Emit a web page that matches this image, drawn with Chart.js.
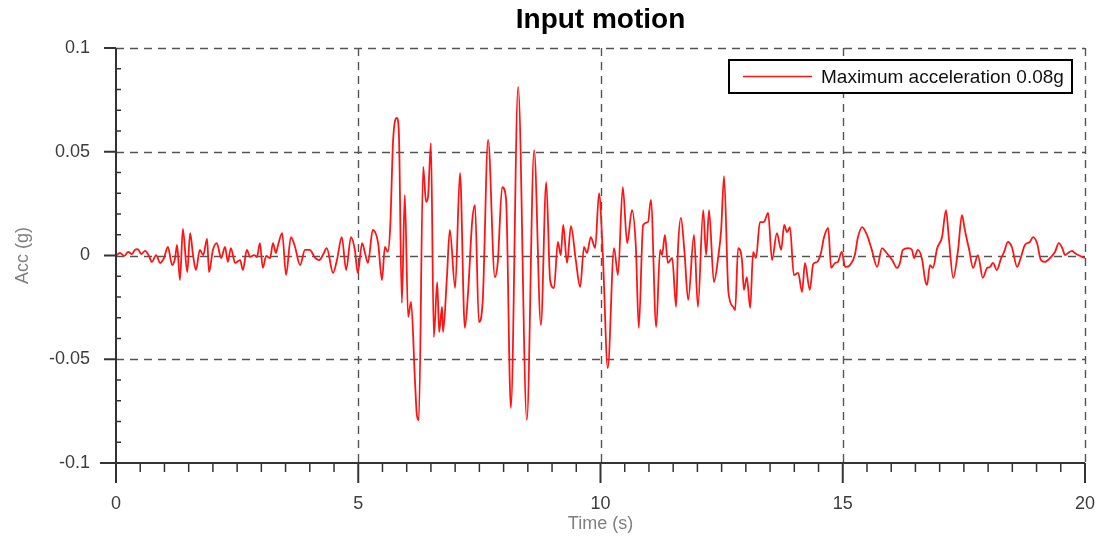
<!DOCTYPE html>
<html>
<head>
<meta charset="utf-8">
<script src="https://cdn.jsdelivr.net/npm/chart.js@4.4.1/dist/chart.umd.min.js"></script>
<style>
  body { margin: 0; background: #fff; }
  #wrap { width: 1096px; height: 537px; position: relative; }
</style>
</head>
<body>
<div id="wrap"><canvas id="chart"></canvas></div>
<script>
// time (s) and acceleration (g)
const times = [
    0, 0.08, 0.17, 0.25, 0.33, 0.39, 0.45, 0.52, 0.60, 0.68, 0.74, 0.83, 0.91, 0.99,
    1.07, 1.16, 1.22, 1.26, 1.32, 1.38, 1.47, 1.53, 1.59, 1.65, 1.73, 1.80, 1.88, 1.92,
    2.00, 2.08, 2.17, 2.25, 2.31, 2.37, 2.46, 2.56, 2.62, 2.70, 2.77, 2.85, 2.91, 2.97,
    3.03, 3.10, 3.18, 3.24, 3.30, 3.34, 3.43, 3.51, 3.61, 3.69, 3.80, 3.90, 4.00, 4.11,
    4.19, 4.27, 4.35, 4.48, 4.56, 4.66, 4.75, 4.85, 4.93, 4.99,
    5.08, 5.14, 5.20, 5.30, 5.41, 5.49, 5.55, 5.61, 5.66, 5.72, 5.80, 5.84, 5.90, 5.96,
    6.03, 6.09, 6.17, 6.21, 6.25, 6.34, 6.40, 6.44, 6.50, 6.56, 6.63, 6.67, 6.73, 6.75,
    6.83, 6.89, 7.00, 7.10, 7.20, 7.27, 7.35, 7.41, 7.49, 7.57, 7.68, 7.82, 7.88, 7.97,
    8.05, 8.15, 8.30, 8.48, 8.63, 8.77, 8.88, 8.96, 9.04, 9.12, 9.18, 9.23, 9.31, 9.39,
    9.49, 9.58, 9.66, 9.72, 9.80, 9.89,
    9.97, 10.05, 10.15, 10.28, 10.36, 10.46, 10.55, 10.65, 10.73, 10.79, 10.88, 10.98,
    11.04, 11.15, 11.23, 11.27, 11.33, 11.39, 11.48, 11.56, 11.60, 11.66, 11.73, 11.81,
    11.93, 12.01, 12.12, 12.18, 12.24, 12.34, 12.43, 12.49, 12.55, 12.64, 12.74, 12.78,
    12.84, 12.92, 12.96, 13.02, 13.09, 13.15, 13.21, 13.29, 13.37, 13.46, 13.54, 13.64,
    13.73, 13.79, 13.85, 13.91, 13.99, 14.08, 14.16, 14.22, 14.32, 14.39, 14.47, 14.55,
    14.61, 14.70, 14.76, 14.84, 14.90, 14.98, 15.05,
    15.15, 15.25, 15.31, 15.40, 15.50, 15.60, 15.71, 15.81, 15.89, 16.02, 16.12, 16.18,
    16.24, 16.35, 16.43, 16.47, 16.55, 16.64, 16.70, 16.74, 16.80, 16.86, 16.95, 17.05,
    17.13, 17.19, 17.28, 17.38, 17.46, 17.52, 17.61, 17.69, 17.79, 17.89, 17.98, 18.04,
    18.10, 18.18, 18.27, 18.33, 18.41, 18.49, 18.60, 18.66, 18.76, 18.86, 18.93, 19.01,
    19.09, 19.17, 19.28, 19.38, 19.46, 19.53, 19.59, 19.65, 19.73, 19.79, 19.86, 19.94, 20.0
];
const acc = [
    0, 0.0012, -0.0002, 0.0017, 0.0007, 0.0027, 0.0031, 0.0007, 0.0022, -0.0002, -0.0031, 0.0002, -0.0036, -0.0012,
    0.0041, -0.0046, -0.0012, 0.0051, -0.0118, 0.0128, -0.0080, 0.0108, 0.0002, -0.0070, 0.0027, 0.0002, 0.0080, -0.0080,
    0.0027, 0.0060, -0.0012, 0.0041, -0.0031, 0.0036, -0.0036, -0.0022, -0.0070, 0.0027, -0.0007, 0.0002, -0.0007, 0.0060,
    -0.0060, -0.0002, -0.0012, 0.0060, 0.0012, 0.0046, 0.0108, -0.0094, 0.0089, 0.0046, -0.0046, 0.0027, 0.0027, -0.0012,
    -0.0022, 0.0002, 0.0036, -0.0084, -0.0022, 0.0089, -0.0070, 0.0089, 0.0027, -0.0084,
    0.0060, 0.0012, -0.0036, 0.0123, 0.0060, -0.0118, 0.0041, 0.0017, 0.0137, 0.0557, 0.0663, 0.0580, -0.0229, 0.0292,
    -0.0296, -0.0224, -0.0600, -0.0769, -0.0793, 0.0427, 0.0258, 0.0282, 0.0542, -0.0393, -0.0128, -0.0369, -0.0248, -0.0369,
    -0.0104, 0.0123, -0.0157, 0.0398, -0.0349, -0.0166, 0.0161, 0.0243, -0.0321, -0.0214, 0.0557, -0.0104, -0.0031, 0.0330,
    0.0277, -0.0735, 0.0812, -0.0793, 0.0508, -0.0335, 0.0354, -0.0118, -0.0157, 0.0065, 0.0002, 0.0147, -0.0036, 0.0142,
    -0.0022, -0.0152, 0.0041, 0.0012, 0.0089, 0.0036,
    0.0301, -0.0007, -0.0542, 0.0036, -0.0094, 0.0330, 0.0060, 0.0219, 0.0041, -0.0349, 0.0147, 0.0161,
    0.0268, -0.0345, 0.0027, 0.0002, 0.0099, -0.0036, -0.0012, -0.0248, 0.0036, 0.0181, 0.0027, -0.0214,
    0.0099, -0.0248, 0.0219, 0.0002, 0.0219, -0.0128, -0.0007, 0.0123, 0.0383, -0.0176, -0.0248, -0.0263,
    0.0036, -0.0022, -0.0166, -0.0104, -0.0253, 0.0017, -0.0012, 0.0161, 0.0161, 0.0205, -0.0022, 0.0108,
    0.0027, 0.0147, 0.0113, 0.0137, -0.0094, -0.0084, -0.0176, -0.0036, -0.0166, -0.0041, -0.0031, 0.0012,
    0.0084, 0.0133, -0.0060, -0.0036, -0.0031, 0.0017, -0.0055,
    -0.0046, 0.0002, 0.0084, 0.0137, 0.0099, 0.0027, -0.0055, 0.0036, 0.0017, -0.0022, -0.0060, -0.0036,
    0.0027, 0.0036, 0.0027, -0.0012, 0.0027, -0.0022, -0.0118, -0.0142, -0.0046, -0.0060, 0.0036, 0.0089,
    0.0219, 0.0084, -0.0108, 0.0027, 0.0195, 0.0123, 0.0027, -0.0060, 0.0002, -0.0108, -0.0060, -0.0055,
    -0.0036, -0.0070, -0.0012, 0.0017, 0.0065, 0.0041, -0.0055, -0.0022, 0.0051, 0.0065, 0.0089, 0.0060,
    -0.0022, -0.0031, -0.0012, 0.0017, 0.0060, 0.0036, 0.0002, 0.0012, 0.0022, 0.0012, 0.0002, -0.0007, -0.0012
];

const xTicks = [0, 5, 10, 15, 20];
const yTicks = [-0.1, -0.05, 0, 0.05, 0.1];
const yTickLabels = ['-0.1', '-0.05', '0', '0.05', '0.1'];
const seriesLabel = 'Maximum acceleration 0.08g';
const chartTitle = 'Input motion';

const FONT = "'Liberation Sans', Arial, sans-serif";
const RED = 'rgb(255, 20, 20)';

function line(ctx, x1, y1, x2, y2) {
    ctx.beginPath();
    ctx.moveTo(x1, y1);
    ctx.lineTo(x2, y2);
    ctx.stroke();
}

// grid, axes, ticks, title and legend drawn by hand to look like the original figure
const decorPlugin = {
    id: 'decor',
    beforeDatasetsDraw(chart) {
        const { ctx, chartArea: a, scales: { x, y } } = chart;
        ctx.save();
        ctx.strokeStyle = '#555';
        ctx.lineWidth = 1.4;
        ctx.setLineDash([8, 6]);
        xTicks.forEach(v => {
            if (v === 0) return;
            const px = Math.round(x.getPixelForValue(v)) + 0.5;
            line(ctx, px, a.top, px, a.bottom);
        });
        yTicks.forEach(v => {
            if (v === -0.1) return;
            const py = Math.round(y.getPixelForValue(v)) + 0.5;
            line(ctx, a.left, py, a.right, py);
        });
        ctx.restore();
    },
    afterDatasetsDraw(chart) {
        const { ctx, chartArea: a, scales: { x, y } } = chart;
        ctx.save();
        ctx.strokeStyle = '#333';
        ctx.lineWidth = 2;
        // axis lines
        line(ctx, a.left, a.top, a.left, a.bottom + 20);
        line(ctx, a.left - 16, a.bottom, a.right, a.bottom);
        // y ticks: majors outward, minors inward
        for (let i = -10; i <= 10; i++) {
            const py = y.getPixelForValue(i / 100);
            if (i % 5 === 0) {
                line(ctx, a.left - 12, py, a.left, py);
            } else {
                ctx.lineWidth = 1.5;
                line(ctx, a.left, py, a.left + 5, py);
                ctx.lineWidth = 2;
            }
        }
        // x ticks every 0.5 s below the axis
        for (let i = 1; i <= 40; i++) {
            const px = x.getPixelForValue(i / 2);
            if (i % 10 === 0) {
                line(ctx, px, a.bottom, px, a.bottom + 20);
            } else {
                ctx.lineWidth = 1.5;
                line(ctx, px, a.bottom, px, a.bottom + 9);
                ctx.lineWidth = 2;
            }
        }

        // title
        ctx.fillStyle = '#000';
        ctx.font = "bold 28px " + FONT;
        ctx.textAlign = 'center';
        ctx.textBaseline = 'middle';
        ctx.fillText(chartTitle, (a.left + a.right) / 2, 20);

        // legend
        const bx = 729, by = 60, bw = 343, bh = 33;
        ctx.fillStyle = '#fff';
        ctx.fillRect(bx, by, bw, bh);
        ctx.strokeStyle = '#000';
        ctx.lineWidth = 2;
        ctx.strokeRect(bx, by, bw, bh);
        ctx.strokeStyle = RED;
        ctx.lineWidth = 1.5;
        line(ctx, bx + 14, by + bh / 2, bx + 83, by + bh / 2);
        ctx.fillStyle = '#111';
        ctx.font = "19px " + FONT;
        ctx.textAlign = 'left';
        ctx.fillText(seriesLabel, bx + 92, by + bh / 2 + 1);
        ctx.restore();
    }
};

const ctx = document.getElementById('chart').getContext('2d');
new Chart(ctx, {
    type: 'line',
    data: {
        datasets: [{
            label: seriesLabel,
            data: times.map((t, i) => ({ x: t, y: acc[i] })),
            borderColor: RED,
            borderWidth: 1.8,
            pointRadius: 0,
            fill: false,
            cubicInterpolationMode: 'monotone'
        }]
    },
    options: {
        responsive: true,
        maintainAspectRatio: false,
        animation: false,
        layout: { padding: { top: 48, right: 11, left: 0, bottom: 0 } },
        plugins: {
            legend: { display: false },
            title: { display: false },
            tooltip: { enabled: false }
        },
        scales: {
            x: {
                type: 'linear',
                min: 0,
                max: 20,
                afterBuildTicks: s => { s.ticks = xTicks.map(v => ({ value: v })); },
                afterFit: s => {
                    s.height = 74;
                    s.paddingLeft = 0;
                    s.paddingRight = 0;
                },
                grid: { display: false },
                border: { display: false },
                ticks: {
                    color: '#3c3c3c',
                    font: { family: FONT, size: 18 },
                    padding: 22,
                    maxRotation: 0
                },
                title: {
                    display: true,
                    text: 'Time (s)',
                    color: '#808080',
                    font: { family: FONT, size: 18 },
                    padding: { top: 0, bottom: 2 }
                }
            },
            y: {
                min: -0.1,
                max: 0.1,
                afterBuildTicks: s => { s.ticks = yTicks.map(v => ({ value: v })); },
                afterFit: s => {
                    s.width = 116;
                    s.paddingTop = 0;
                    s.paddingBottom = 0;
                },
                grid: { display: false },
                border: { display: false },
                ticks: {
                    color: '#3c3c3c',
                    font: { family: FONT, size: 18 },
                    padding: 18,
                    callback: (v, i) => yTickLabels[i]
                },
                title: {
                    display: true,
                    text: 'Acc (g)',
                    color: '#808080',
                    font: { family: FONT, size: 18 },
                    padding: { top: 12, bottom: 0 }
                }
            }
        }
    },
    plugins: [decorPlugin]
});
</script>
</body>
</html>
